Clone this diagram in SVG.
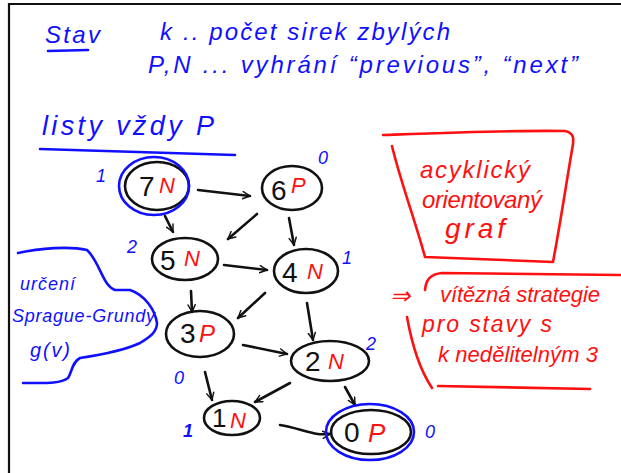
<svg xmlns="http://www.w3.org/2000/svg" width="621" height="473" viewBox="0 0 621 473">
<defs>
<style>
.b{fill:#1010ff;font-family:"Liberation Sans",sans-serif;font-style:italic}
.r{fill:#ff1010;font-family:"Liberation Sans",sans-serif;font-style:italic}
.k{fill:#111;font-family:"Liberation Sans",sans-serif}
.nb{fill:none;stroke:#111;stroke-width:2.6;stroke-linecap:round}
.bl{fill:none;stroke:#1010ff;stroke-width:2.6;stroke-linecap:round}
.rl{fill:none;stroke:#ff1010;stroke-width:2.6;stroke-linecap:round;stroke-linejoin:round}
.e{fill:none;stroke:#111;stroke-width:2.6;stroke-linecap:round;marker-end:url(#ah)}
</style>
<marker id="ah" viewBox="0 0 10 10" refX="9" refY="5" markerWidth="9" markerHeight="9" orient="auto" markerUnits="userSpaceOnUse">
<path d="M1,1 L9,5 L1,9" fill="none" stroke="#111" stroke-width="1.6" stroke-linecap="round"/>
</marker>
</defs>
<rect width="621" height="473" fill="#fff"/>
<path d="M9,473 L9,4 L621,4" fill="none" stroke="#111" stroke-width="2.2"/>

<g id="header">
<text class="b" x="45" y="43" font-size="24" textLength="55">Stav</text>
<path class="bl" d="M48,51 L88,50"/>
<text class="b" x="160" y="40" font-size="24" textLength="290">k .. počet sirek zbylých</text>
<text class="b" x="148" y="73" font-size="24" textLength="430">P,N ... vyhrání “previous”, “next”</text>
<text class="b" x="42" y="135" font-size="27" textLength="172">listy vždy P</text>
<path class="bl" d="M40,149 L235,155"/>
</g>

<g id="sg-note">
<path class="bl" d="M18,253 C40,248 70,246 87,250 C100,262 102,285 115,290 L130,290 C145,295 155,310 157,323 C157,332 150,337 140,343 C125,350 100,355 80,358 C72,362 72,372 68,378 C60,384 45,383 23,383"/>
<text class="b" x="20" y="290" font-size="18" textLength="55">určení</text>
<text class="b" x="12" y="322" font-size="18" textLength="143">Sprague-Grundy</text>
<text class="b" x="30" y="357" font-size="20" textLength="40">g(v)</text>
</g>

<g id="dag-note">
<path class="rl" d="M383,135 C440,133 520,130 565,131 C575,133 574,140 572,150 C566,185 560,225 553,262 L425,257 C415,220 400,180 392,146"/>
<text class="r" x="420" y="178" font-size="24" textLength="110">acyklický</text>
<text class="r" x="422" y="208" font-size="24" textLength="120">orientovaný</text>
<text class="r" x="445" y="238" font-size="28" textLength="60">graf</text>
</g>

<g id="strategy-note">
<path class="rl" d="M425,290 C426,280 430,274 442,273 L621,275"/>
<path class="rl" d="M407,317 C412,345 420,370 432,388"/>
<path class="rl" d="M438,386 L590,389"/>
<text class="r" x="390" y="304" font-size="24">⇒</text>
<text class="r" x="440" y="302" font-size="22" textLength="160">vítězná strategie</text>
<text class="r" x="422" y="332" font-size="23" textLength="130">pro stavy s</text>
<text class="r" x="438" y="362" font-size="22" textLength="160">k nedělitelným 3</text>
</g>

<g id="connectors">
<path class="e" d="M198,190 L250,196"/>
<path class="e" d="M165,216 L173,232"/>
<path class="e" d="M257,214 L228,239"/>
<path class="e" d="M289,218 L294,245"/>
<path class="e" d="M224,265 L267,270"/>
<path class="e" d="M191,291 L192,312"/>
<path class="e" d="M265,293 L238,318"/>
<path class="e" d="M307,303 L313,340"/>
<path class="e" d="M243,345 L287,354"/>
<path class="e" d="M205,372 L212,400"/>
<path class="e" d="M290,383 L255,402"/>
<path class="e" d="M345,387 L355,405"/>
<path class="e" d="M280,425 C300,428 312,436 330,434"/>
</g>

<g id="n7">
<ellipse class="nb" cx="157" cy="186" rx="32" ry="24"/>
<ellipse class="bl" cx="154" cy="186" rx="35" ry="29"/>
<text class="k" x="139" y="196" font-size="28">7</text>
<text class="r" x="159" y="193" font-size="22">N</text>
<text class="b" x="96" y="182" font-size="18">1</text>
</g>
<g id="n6">
<ellipse class="nb" cx="292" cy="188" rx="30" ry="22"/>
<text class="k" x="271" y="200" font-size="28">6</text>
<text class="r" x="291" y="193" font-size="22">P</text>
<text class="b" x="318" y="164" font-size="18">0</text>
</g>
<g id="n5">
<ellipse class="nb" cx="185" cy="259" rx="33" ry="21"/>
<text class="k" x="160" y="270" font-size="28">5</text>
<text class="r" x="184" y="266" font-size="22">N</text>
<text class="b" x="127" y="253" font-size="18">2</text>
</g>
<g id="n4">
<ellipse class="nb" cx="306" cy="271" rx="32" ry="22"/>
<text class="k" x="282" y="282" font-size="28">4</text>
<text class="r" x="307" y="279" font-size="22">N</text>
<text class="b" x="342" y="264" font-size="18">1</text>
</g>
<g id="n3">
<ellipse class="nb" cx="200" cy="334" rx="34" ry="23"/>
<text class="k" x="180" y="343" font-size="28">3</text>
<text class="r" x="199" y="342" font-size="24">P</text>
<text class="b" x="174" y="384" font-size="18">0</text>
</g>
<g id="n2">
<ellipse class="nb" cx="330" cy="361" rx="39" ry="20"/>
<text class="k" x="305" y="371" font-size="28">2</text>
<text class="r" x="328" y="369" font-size="22">N</text>
<text class="b" x="366" y="350" font-size="18">2</text>
</g>
<g id="n1">
<ellipse class="nb" cx="232" cy="418" rx="28" ry="17"/>
<text class="k" x="212" y="427" font-size="26">1</text>
<text class="r" x="230" y="428" font-size="22">N</text>
<text class="b" x="183" y="437" font-size="18" font-weight="bold">1</text>
</g>
<g id="n0">
<ellipse class="nb" cx="371" cy="432" rx="40" ry="22"/>
<ellipse class="bl" cx="370" cy="432" rx="44" ry="28"/>
<text class="k" x="344" y="442" font-size="28">0</text>
<text class="r" x="368" y="442" font-size="26">P</text>
<text class="b" x="425" y="438" font-size="18">0</text>
</g>
</svg>
